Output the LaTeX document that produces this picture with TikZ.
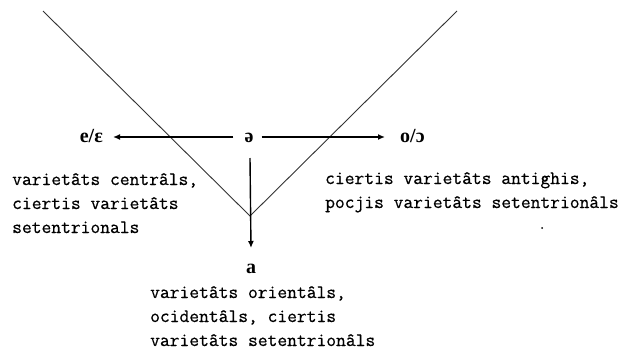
\documentclass[tikz,border=0pt]{standalone}
\usepackage{fontspec}
\newfontfamily\symfont{Liberation Serif}
\newfontfamily\lblfont[FakeBold=0.6]{Latin Modern Mono}
\usetikzlibrary{arrows.meta}
\begin{document}
\begin{tikzpicture}[x=1pt,y=-1pt,
  vline/.style={line width=0.9pt,black!80},
  arr/.style={line width=1.4pt,-{Latex[length=7pt,width=6pt]}},
  sym/.style={font=\symfont\bfseries\fontsize{20}{20}\selectfont,inner sep=0pt,anchor=base},
  lbl/.style={font=\lblfont\fontsize{19}{24}\selectfont,inner sep=0pt,anchor=base west,align=left}]
\useasboundingbox (0,0) rectangle (627,362);
\coordinate (ltop) at (43,11);
\coordinate (rtop) at (457,11);
\coordinate (vtx) at (250,216);
\draw[vline] (ltop) -- (vtx) -- (rtop);
\node[sym] (schwa) at (249,142) {ə};
\node[sym,anchor=base east] (e) at (103,142) {e/ε};
\node[sym,anchor=base west] (o) at (400,142) {o/ɔ};
\node[sym] (a) at (251,273) {a};
\coordinate (midy) at (0,137);
\draw[arr,shorten <=11pt,shorten >=10pt] (schwa.west |- midy) -- (e.east |- midy);
\draw[arr,shorten <=8pt,shorten >=15pt] (schwa.east |- midy) -- (o.west |- midy);
\draw[arr] (250,158) -- (a.north |- 0,248);
\node[lbl] (lt) at (12,233) {varietâts centrâls,\\ciertis varietâts\\setentrionals};
\node[lbl] (rt) at (325,208) {ciertis varietâts antighis,\\pocjis varietâts setentrionâls};
\node[lbl] (bt) at (150,346) {varietâts orientâls,\\ocidentâls, ciertis\\varietâts setentrionâls};
\fill (542,228) circle (1pt);
\end{tikzpicture}
\end{document}
